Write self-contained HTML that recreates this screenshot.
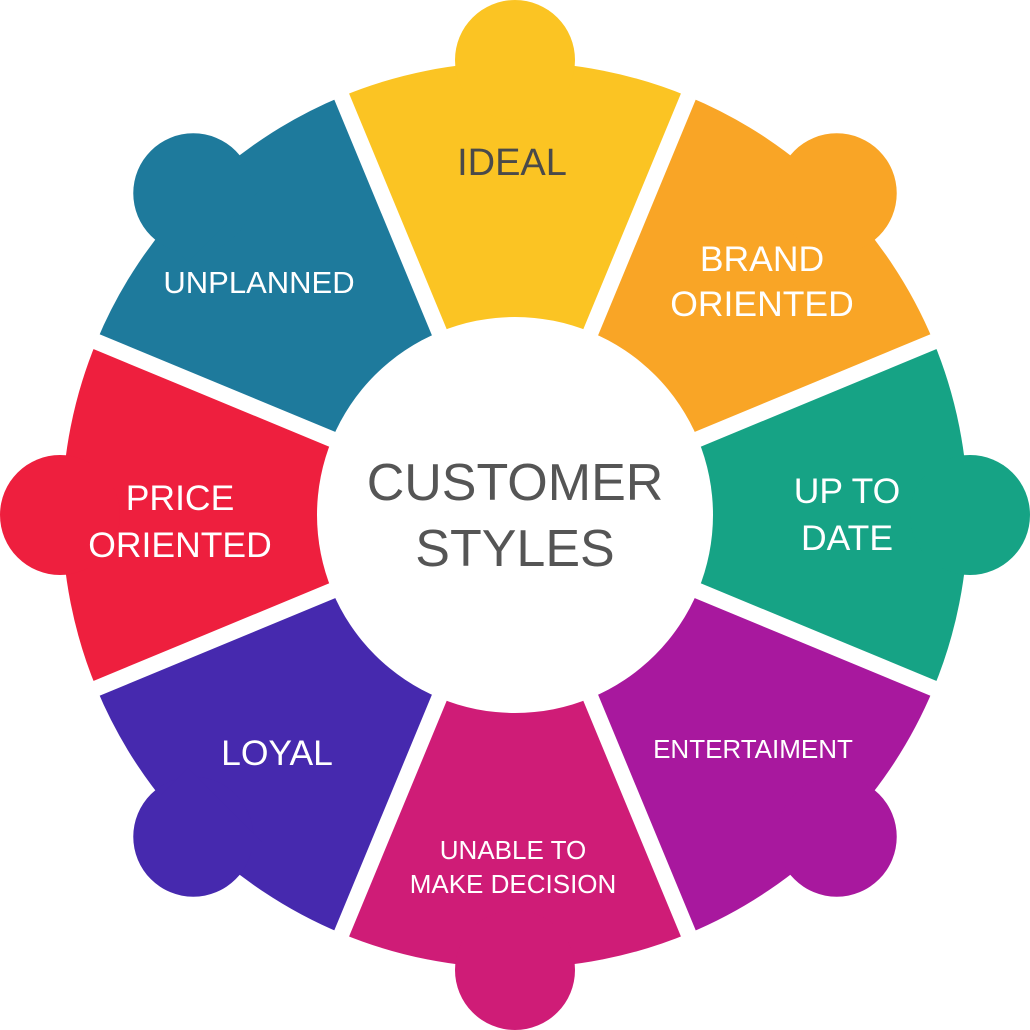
<!DOCTYPE html>
<html><head><meta charset="utf-8"><style>
html,body{margin:0;padding:0;background:#fff;}
svg{display:block;}
text{font-family:"Liberation Sans",sans-serif;text-anchor:middle;}
</style></head><body>
<svg width="1030" height="1030" viewBox="0 0 1030 1030" xmlns="http://www.w3.org/2000/svg">
<defs>
<g id="seg">
<path d="M0,0 L-173.4,-418.5 A453,453 0 0 1 173.4,-418.5 Z"/>
<circle cx="0" cy="-455" r="60"/>
<rect x="-52" y="-460" width="104" height="50"/>
</g>
</defs>
<g transform="translate(515,515)">
<use href="#seg" fill="#FBC423" transform="rotate(0)"/>
<use href="#seg" fill="#F9A526" transform="rotate(45)"/>
<use href="#seg" fill="#16A385" transform="rotate(90)"/>
<use href="#seg" fill="#A8189E" transform="rotate(135)"/>
<use href="#seg" fill="#CF1C77" transform="rotate(180)"/>
<use href="#seg" fill="#4629AE" transform="rotate(225)"/>
<use href="#seg" fill="#EE1F3E" transform="rotate(270)"/>
<use href="#seg" fill="#1E7A9C" transform="rotate(315)"/>
<g stroke="#fff" stroke-width="16">
<line x1="0" y1="0" x2="0" y2="-470" transform="rotate(22.5)"/>
<line x1="0" y1="0" x2="0" y2="-470" transform="rotate(67.5)"/>
<line x1="0" y1="0" x2="0" y2="-470" transform="rotate(112.5)"/>
<line x1="0" y1="0" x2="0" y2="-470" transform="rotate(157.5)"/>
<line x1="0" y1="0" x2="0" y2="-470" transform="rotate(202.5)"/>
<line x1="0" y1="0" x2="0" y2="-470" transform="rotate(247.5)"/>
<line x1="0" y1="0" x2="0" y2="-470" transform="rotate(292.5)"/>
<line x1="0" y1="0" x2="0" y2="-470" transform="rotate(337.5)"/>
</g>
<circle cx="0" cy="0" r="198" fill="#fff"/>
</g>
<text x="512" y="175" font-size="38" fill="#4a4a4a">IDEAL</text>
<text x="762" y="271" font-size="35.5" fill="#fff">BRAND</text>
<text x="762" y="316" font-size="35.5" fill="#fff">ORIENTED</text>
<text x="847" y="503" font-size="35.5" fill="#fff">UP TO</text>
<text x="847" y="550" font-size="35.5" fill="#fff">DATE</text>
<text x="753" y="758" font-size="26" fill="#fff">ENTERTAIMENT</text>
<text x="513" y="859" font-size="26" fill="#fff">UNABLE TO</text>
<text x="513" y="893" font-size="26" fill="#fff">MAKE DECISION</text>
<text x="277" y="765" font-size="35.5" fill="#fff">LOYAL</text>
<text x="180" y="510" font-size="35.5" fill="#fff">PRICE</text>
<text x="180" y="557" font-size="35.5" fill="#fff">ORIENTED</text>
<text x="259" y="293" font-size="31" fill="#fff">UNPLANNED</text>
<text x="515" y="500" font-size="52" fill="#555">CUSTOMER</text>
<text x="515" y="566" font-size="52" fill="#555">STYLES</text>
</svg>
</body></html>
